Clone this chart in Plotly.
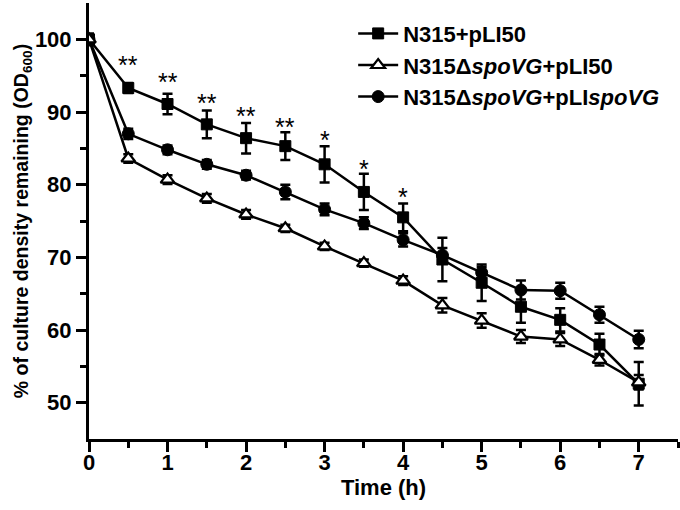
import plotly.graph_objects as go

time_h = [0, 0.5, 1, 1.5, 2, 2.5, 3, 3.5, 4, 4.5, 5, 5.5, 6, 6.5, 7]

wt_pli50 = [100, 93.3, 91.1, 88.3, 86.4, 85.3, 82.8, 79.0, 75.5, 69.7, 66.5, 63.2, 61.4, 58.0, 52.6]
wt_pli50_err = [0.8, 0.7, 1.4, 1.9, 2.1, 1.9, 2.5, 2.5, 1.9, 3.0, 2.5, 2.2, 1.6, 1.5, 3.0]

mut_pli50 = [100, 83.6, 80.7, 78.1, 75.9, 74.0, 71.5, 69.2, 66.8, 63.4, 61.3, 59.1, 58.7, 55.9, 52.8]
mut_pli50_err = [0.6, 0.6, 0.6, 0.6, 0.6, 0.5, 0.5, 0.5, 0.6, 1.0, 1.0, 0.9, 0.9, 0.8, 1.0]

comp = [100, 87.0, 84.8, 82.8, 81.3, 79.0, 76.6, 74.7, 72.4, 70.3, 67.9, 65.5, 65.4, 62.1, 58.7]
comp_err = [0.6, 0.7, 0.6, 0.6, 0.6, 1.0, 0.8, 0.8, 0.9, 1.0, 0.8, 1.3, 1.1, 1.1, 1.2]

star_x = [0.5, 1, 1.5, 2, 2.5, 3, 3.5, 4]
star_y = [96.7, 94.4, 91.5, 89.7, 88.2, 86.4, 82.5, 78.6]
star_text = ["**", "**", "**", "**", "**", "*", "*", "*"]

x_ticks = [0, 1, 2, 3, 4, 5, 6, 7]
y_ticks = [50, 60, 70, 80, 90, 100]

FONT = "Arial, Liberation Sans, sans-serif"

def err(arr):
    return dict(type="data", array=arr, visible=True, color="black", thickness=2.5, width=5)

fig = go.Figure()
fig.add_trace(go.Scatter(
    x=time_h, y=wt_pli50, error_y=err(wt_pli50_err), mode="lines+markers",
    name="N315+pLI50", legendrank=1,
    line=dict(color="black", width=2.5),
    marker=dict(symbol="square", size=11, color="black", line=dict(color="black", width=1)),
))
fig.add_trace(go.Scatter(
    x=time_h, y=comp, error_y=err(comp_err), mode="lines+markers",
    name="N315Δ<i>spoVG</i>+pLI<i>spoVG</i>", legendrank=3,
    line=dict(color="black", width=2.5),
    marker=dict(symbol="circle", size=12, color="black", line=dict(color="black", width=1)),
))
fig.add_trace(go.Scatter(
    x=time_h, y=mut_pli50, error_y=err(mut_pli50_err), mode="lines+markers",
    name="N315Δ<i>spoVG</i>+pLI50", legendrank=2,
    line=dict(color="black", width=2.5),
    marker=dict(symbol="triangle-up", size=12, color="white", line=dict(color="black", width=2.2)),
))

for sx, sy, st in zip(star_x, star_y, star_text):
    fig.add_annotation(x=sx, y=sy, text=st, showarrow=False, xanchor="center", yanchor="middle",
                       yshift=-2, font=dict(family=FONT, size=25, color="black"))

axis_common = dict(
    showline=True, linecolor="black", linewidth=3, showgrid=False, zeroline=False,
    ticks="outside", ticklen=10, tickwidth=3, tickcolor="black",
    tickfont=dict(family=FONT, size=22, color="black", weight="bold"),
)

fig.update_xaxes(
    range=[0, 7.5], tickvals=x_ticks, ticktext=[str(v) for v in x_ticks],
    ticklabelstandoff=-8,
    minor=dict(tickvals=[0.5, 1.5, 2.5, 3.5, 4.5, 5.5, 6.5, 7.5], ticks="outside", ticklen=6, tickwidth=3, tickcolor="black"),
    title=dict(text="Time (h)", font=dict(family=FONT, size=22, color="black", weight="bold"), standoff=4),
    **axis_common,
)
fig.update_yaxes(
    range=[45, 105], tickvals=y_ticks, ticktext=[str(v) for v in y_ticks],
    minor=dict(tickvals=[55, 65, 75, 85, 95], ticks="outside", ticklen=6, tickwidth=3, tickcolor="black"),
    title=dict(text="% of culture density remaining (OD<sub>600</sub>)",
               font=dict(family=FONT, size=19.5, color="black", weight="bold"), standoff=0),
    **axis_common,
)

fig.update_layout(
    width=680, height=510,
    margin=dict(l=89, r=2, t=3, b=71, autoexpand=False),
    plot_bgcolor="white", paper_bgcolor="white",
    showlegend=True,
    legend=dict(x=0.4485, y=0.978, xanchor="left", yanchor="top", bgcolor="rgba(0,0,0,0)",
                font=dict(family=FONT, size=22, color="black", weight="bold"),
                itemwidth=40, tracegroupgap=0),
)

fig.write_html("out.html", config={"displayModeBar": False},
               post_script="document.body.style.margin='0';document.body.style.overflow='hidden';")
